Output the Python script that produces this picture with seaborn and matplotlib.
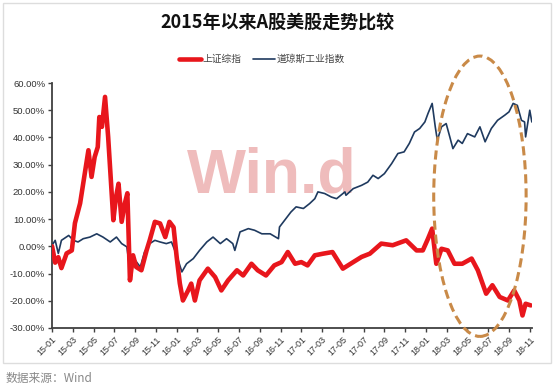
import numpy as np
import pandas as pd
import matplotlib
matplotlib.use("Agg")
import matplotlib.pyplot as plt
from matplotlib.patches import Ellipse, Rectangle
import seaborn as sns

# ---- data (months since 2015-01, percent change) ----
sh_month = [0, 0.3, 0.6, 0.9, 1.4, 1.9, 2.2, 2.7, 3.2, 3.5, 3.8, 4.1, 4.4, 4.55, 4.8, 5.1,
            5.4, 5.6, 5.9, 6.15, 6.4, 6.7, 7.0, 7.25, 7.5, 7.8, 8.1, 8.6, 9.1, 9.4, 9.9,
            10.4, 10.9, 11.3, 11.7, 12.0, 12.3, 12.6, 13.1, 13.4, 13.75, 14.2, 15.0, 15.7,
            16.3, 16.95, 17.8, 18.4, 19.2, 19.8, 20.6, 21.4, 22.1, 22.7, 23.4, 24.0, 24.6,
            25.3, 26.1, 27.0, 28.0, 29.0, 29.8, 30.6, 31.7, 32.8, 34.1, 35.1, 35.7, 36.2,
            36.6, 37.0, 37.5, 38.1, 38.75, 39.5, 40.4, 41.0, 41.8, 42.4, 43.1, 43.9, 44.5,
            45.0, 45.3, 45.6, 46.1]
sh_value = [0, -6, -4, -8, -2.6, -1.5, 8.5, 15.8, 28, 35.3, 25.5, 32.8, 36.5, 47.5, 43.9, 54.9,
            40.2, 28, 9.6, 18, 23, 9, 15.7, 19.5, -12.5, -3.3, -7.6, -8.8, -1.5, 2.2, 9,
            8.4, 3.4, 9, 7, -4, -13.6, -19.9, -16.2, -13.7, -19.9, -12.5, -8.2, -11.3,
            -16.2, -12.5, -8.8, -10.7, -6.4, -8.8, -10.7, -7, -5.8, -2.1, -6.4, -5.8, -7,
            -3.3, -2.7, -2.1, -8.2, -5.8, -3.9, -2.7, 1, 0.4, 2.2, -1.5, -1.5, 2.8,
            6.5, -6.4, -0.9, -1.5, -6.4, -6.4, -4.5, -8.8, -17.4, -14.3, -18.6, -19.9, -16.2,
            -19.9, -25.4, -21.1, -21.7]

dj_month = [0, 0.3, 0.6, 0.9, 1.6, 2.05, 2.5, 3.0, 3.65, 4.3, 4.9, 5.6, 6.2, 6.7, 7.2, 7.5,
            8.0, 8.5, 8.9, 9.4, 9.9, 10.4, 11.0, 11.5, 12.0, 12.5, 12.95, 13.6, 14.2, 14.9,
            15.5, 16.2, 16.8, 17.4, 17.6, 18.1, 18.9, 19.5, 20.2, 21.0, 21.8, 21.9, 22.4,
            23.0, 23.5, 24.2, 24.8, 25.3, 25.6, 26.25, 26.9, 27.4, 28.2, 28.3, 29.0, 29.8,
            30.4, 30.9, 31.4, 32.0, 32.7, 33.3, 33.9, 34.4, 34.9, 35.4, 35.9, 36.2, 36.6,
            36.9, 37.1, 37.5, 37.95, 38.3, 38.6, 39.1, 39.5, 40.0, 40.7, 41.2, 41.7, 42.3,
            42.9, 43.6, 44.0, 44.4, 44.8, 45.2, 45.5, 45.6, 46.0, 46.2]
dj_value = [0.4, 2.2, -2.6, 2.2, 4, 2.2, 1.6, 2.8, 3.4, 4.6, 3.4, 1.6, 3.4, 1, -0.2, -8.8,
            -5.1, -7.6, -2.1, 1, 2.2, 1.6, 1, 1.6, -3.3, -9.4, -6.4, -4.5, -1.5, 1.6,
            3.4, 1, 2.8, 1, -1.5, 5.3, 6.5, 5.9, 4.6, 4.6, 2.8, 7.1, 9.6,
            12.6, 14.5, 13.9, 15.7, 17.5, 20, 19.4, 18.1, 17.5, 20, 18.75, 21.2, 22.4,
            23.6, 26.1, 24.9, 26.7, 30.4, 34.1, 34.7, 37.8, 42, 43.3, 45.7, 48.8, 52.5,
            43.9, 39, 43.9, 45.1, 40.2, 35.9, 39, 37.8, 41.4, 40.2, 43.9, 38.4, 43.3,
            46.3, 48.2, 49.4, 52.5, 51.8, 46.3, 45.7, 40.2, 50, 45.7]

tick_labels = ["15-01", "15-03", "15-05", "15-07", "15-09", "15-11",
               "16-01", "16-03", "16-05", "16-07", "16-09", "16-11",
               "17-01", "17-03", "17-05", "17-07", "17-09", "17-11",
               "18-01", "18-03", "18-05", "18-07", "18-09", "18-11"]
y_ticks = [60, 50, 40, 30, 20, 10, 0, -10, -20, -30]

series_names = ["上证综指", "道琼斯工业指数"]

# ---- frames ----
df_sh = pd.DataFrame({"month": sh_month, "value": sh_value, "series": series_names[0]})
df_dj = pd.DataFrame({"month": dj_month, "value": dj_value, "series": series_names[1]})

sns.set_style("white")
plt.rcParams["font.family"] = ["Noto Sans CJK SC", "DejaVu Sans"]

fig = plt.figure(figsize=(5.54, 3.87), dpi=100)
ax = fig.add_axes([0.094, 0.1525, 0.866, 0.633])

red = "#e8161c"
navy = "#1f3a5f"

# watermark
ax.text(0.457, 0.62, "Win.d", transform=ax.transAxes, fontsize=45, fontweight="bold",
        family="Liberation Sans", color="#efbcbc", ha="center", va="center", zorder=0)

sns.lineplot(data=df_dj, x="month", y="value", color=navy, linewidth=1.2, ax=ax,
             label=series_names[1], zorder=3)
sns.lineplot(data=df_sh, x="month", y="value", color=red, linewidth=3.3, ax=ax,
             label=series_names[0], zorder=4)

ax.set_xlim(0, 46.2)
ax.set_ylim(-30, 60)
ax.set_xticks([2 * i for i in range(len(tick_labels))])
ax.set_xticklabels(tick_labels, rotation=45, ha="right", rotation_mode="anchor",
                   fontsize=6.5, color="#333333", family=["Liberation Sans", "DejaVu Sans"])
ax.set_yticks(y_ticks)
ax.set_yticklabels([f"{v:.2f}%" for v in y_ticks], fontsize=6.8, color="#333333",
                   family=["Liberation Sans", "DejaVu Sans"])
ax.set_xlabel("")
ax.set_ylabel("")
for s in ["top", "right"]:
    ax.spines[s].set_visible(False)
for s in ["left", "bottom"]:
    ax.spines[s].set_color("#404040")
    ax.spines[s].set_linewidth(1.3)
ax.tick_params(axis="both", which="both", direction="out", length=3, width=1,
               color="#404040", pad=2, left=True, bottom=True)

# ellipse highlight
ell = Ellipse((41.2, 18.4), width=8.9, height=103, fill=False, edgecolor="#c98a48",
              linewidth=2.2, linestyle=(0, (3, 1.6)), clip_on=False, zorder=5)
ax.add_patch(ell)

# legend
h, l = ax.get_legend_handles_labels()
order = [l.index(series_names[0]), l.index(series_names[1])]
ax.legend([h[i] for i in order], [l[i] for i in order], loc="center",
          bbox_to_anchor=(0.473, 0.847), bbox_transform=fig.transFigure, ncol=2,
          frameon=False, fontsize=7, handlelength=2.2, handletextpad=0.2,
          columnspacing=1.2, labelcolor="#444444")

fig.text(0.5, 0.943, "2015年以来A股美股走势比较", ha="center", va="center",
         fontsize=13, fontweight="bold", color="#111111")
fig.text(0.01, 0.023, "数据来源：Wind", ha="left", va="center", fontsize=8.5,
         color="#888888")

# outer frame
fig.patches.append(Rectangle((0.006, 0.062), 0.988, 0.93, transform=fig.transFigure,
                             fill=False, edgecolor="#dddddd", linewidth=1))

fig.savefig("out.png", dpi=100)
